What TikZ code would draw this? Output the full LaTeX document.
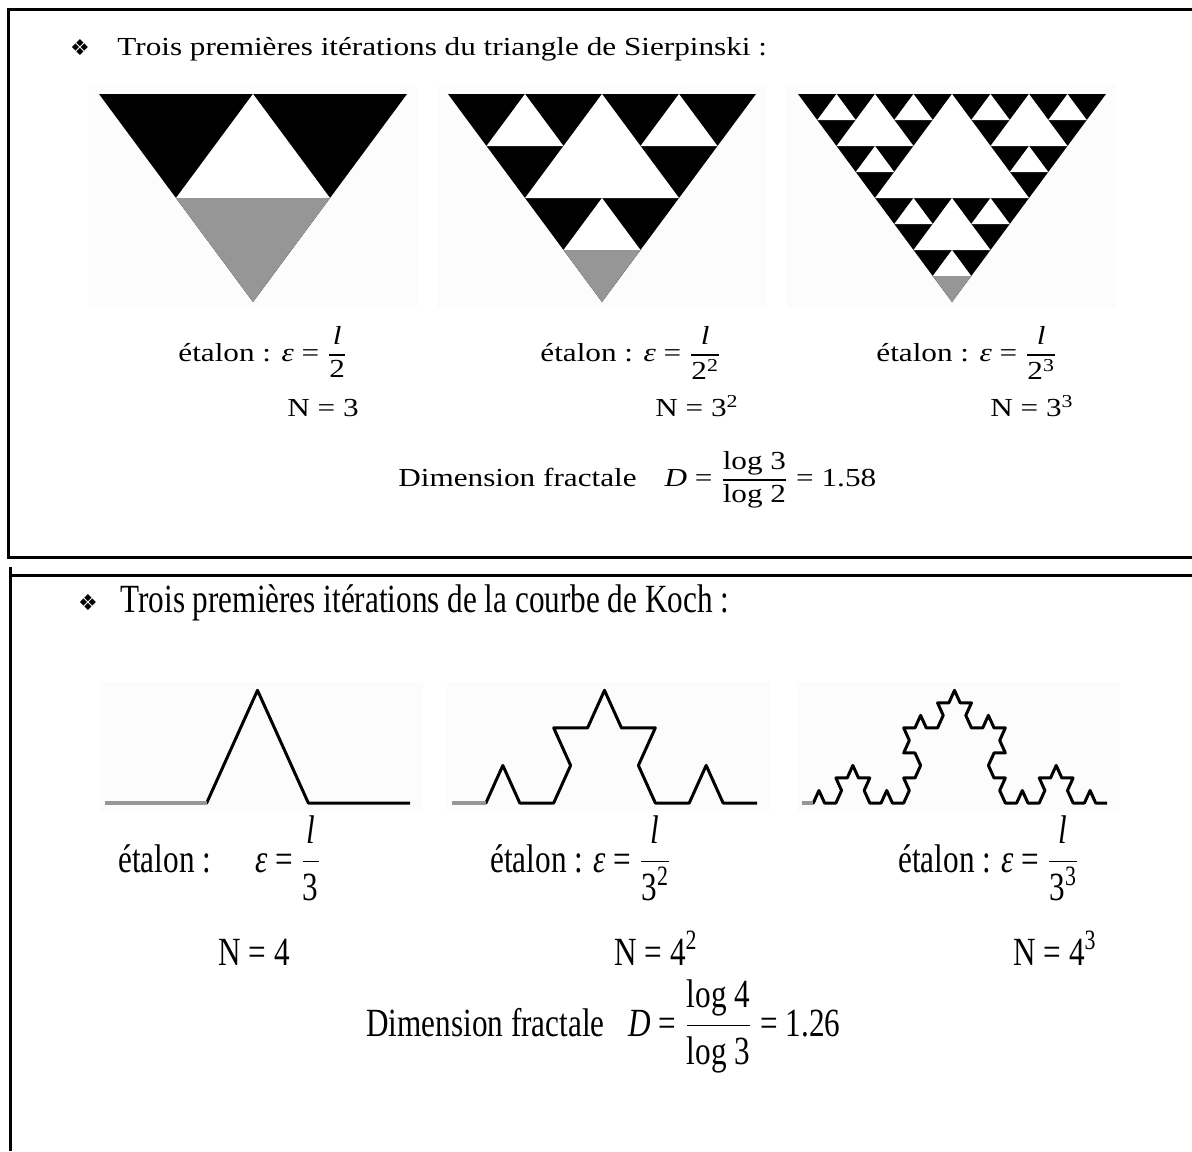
\documentclass[tikz,border=0pt]{standalone}
\usepackage{amsmath}
\usepackage{fontspec}
\setmainfont{Liberation Serif}
\newfontfamily\wideserif[FakeStretch=1.2]{Liberation Serif}
\newfontfamily\narrowserif[FakeStretch=0.78]{Liberation Serif}
\newfontfamily\symfont{DejaVu Sans}
\usetikzlibrary{lindenmayersystems}
\definecolor{etalongray}{RGB}{150,150,150}

\pgfdeclarelindenmayersystem{Koch}{\rule{F -> F+F--F+F}}

% fraction built from text
\newcommand\fr[2]{$\genfrac{}{}{0.6pt}{0}{\text{#1}}{\text{#2}}$}

% white holes of a downward triangle: order, left x, top y, width, height
\newcommand\sierholes[5]{%
  \ifnum#1>0
    \fill[white] ({#2+(#4)/2},{#3}) -- ({#2+(#4)/4},{#3+(#5)/2})
      -- ({#2+3*(#4)/4},{#3+(#5)/2}) -- cycle;
    \sierholes{\the\numexpr#1-1\relax}{#2}{#3}{(#4)/2}{(#5)/2}%
    \sierholes{\the\numexpr#1-1\relax}{#2+(#4)/2}{#3}{(#4)/2}{(#5)/2}%
    \sierholes{\the\numexpr#1-1\relax}{#2+(#4)/4}{#3+(#5)/2}{(#4)/2}{(#5)/2}%
  \fi}

\begin{document}
\begin{tikzpicture}[x=0.5pt,y=-0.5pt,
    frame/.style={line width=1.5pt},
    toptext/.style={inner sep=0pt,anchor=base west,font=\wideserif\fontsize{13}{15}\selectfont},
    bottext/.style={inner sep=0pt,anchor=base west,font=\narrowserif\fontsize{20}{24}\selectfont},
    bullet/.style={inner sep=0pt,font=\symfont\fontsize{11}{11}\selectfont},
    pale/.style={fill=black!1},
    koch/.style={line width=1.5pt,line join=round},
    etalon/.style={draw=etalongray,line width=2.3pt}]
    \useasboundingbox (0,0) rectangle (1192,1151);

    % frames
    \draw[frame] (1192,9) -- (8,9) -- (8,557) -- (1192,557);
    \draw[frame] (10,567) -- (10,1151);
    \draw[frame] (10,575) -- (1192,575);

    % Sierpinski
    \node[bullet] (bulS) at (80,48) {❖};
    \node[toptext] (headS) at (117,55) {Trois premières itérations du triangle de Sierpinski :};
    \foreach \x/\n in {99/1,448/2,798/3} {
        \fill[pale] ({\x-11},85) rectangle ({\x+318},308);
        \fill[black] (\x,94) -- ({\x+308},94) -- ({\x+154},302) -- cycle;
        \sierholes{\n}{\x}{94}{308}{208}
        \fill[etalongray] ({\x+154-154/2^\n},{302-208/2^\n})
            -- ({\x+154+154/2^\n},{302-208/2^\n}) -- ({\x+154},302) -- cycle;
    }
    \node[toptext] (etalS1) at (178,361) {étalon : \textit{ε} = \fr{\textit{l}}{2}};
    \node[toptext] (nS1) at (287,416) {N = 3};
    \node[toptext] (etalS2) at (540,361) {étalon : \textit{ε} = \fr{\textit{l}}{2\textsuperscript{2}}};
    \node[toptext] (nS2) at (655,416) {N = 3\textsuperscript{2}};
    \node[toptext] (etalS3) at (876,361) {étalon : \textit{ε} = \fr{\textit{l}}{2\textsuperscript{3}}};
    \node[toptext] (nS3) at (990,416) {N = 3\textsuperscript{3}};
    \node[toptext] (dimS) at (398,486) {Dimension fractale\hspace{14pt}\textit{D} = \fr{log 3}{log 2} = 1.58};

    % Koch
    \node[bullet] (bulK) at (88,603) {❖};
    \node[bottext] (headK) at (120,612) {Trois premières itérations de la courbe de Koch :};
    \foreach \x/\n in {105/1,452/2,802/3} {
        \fill[pale] ({\x-5},682) rectangle ({\x+318},812);
        \pgfmathsetmacro\kstep{305/3^\n*0.5}
        \begin{scope}[shift={(\x,803)},yscale=1.28]
            \draw[koch,l-system={Koch,axiom=F,order=\n,angle=60,step=\kstep pt}]
                (0,0) lindenmayer system;
        \end{scope}
        \draw[etalon] (\x,803) -- ++({305/3^\n},0);
    }
    \node[bottext] (etalK1) at (118,872) {étalon :\hspace{22pt}\textit{ε} = \fr{\textit{l}}{3}};
    \node[bottext] (nK1) at (218,965) {N = 4};
    \node[bottext] (etalK2) at (490,872) {étalon : \textit{ε} = \fr{\textit{l}}{3\textsuperscript{2}}};
    \node[bottext] (nK2) at (614,965) {N = 4\textsuperscript{2}};
    \node[bottext] (etalK3) at (898,872) {étalon : \textit{ε} = \fr{\textit{l}}{3\textsuperscript{3}}};
    \node[bottext] (nK3) at (1013,965) {N = 4\textsuperscript{3}};
    \node[bottext] (dimK) at (366,1036) {Dimension fractale\hspace{12pt}\textit{D} = \fr{log 4}{log 3} = 1.26};
\end{tikzpicture}
\end{document}
